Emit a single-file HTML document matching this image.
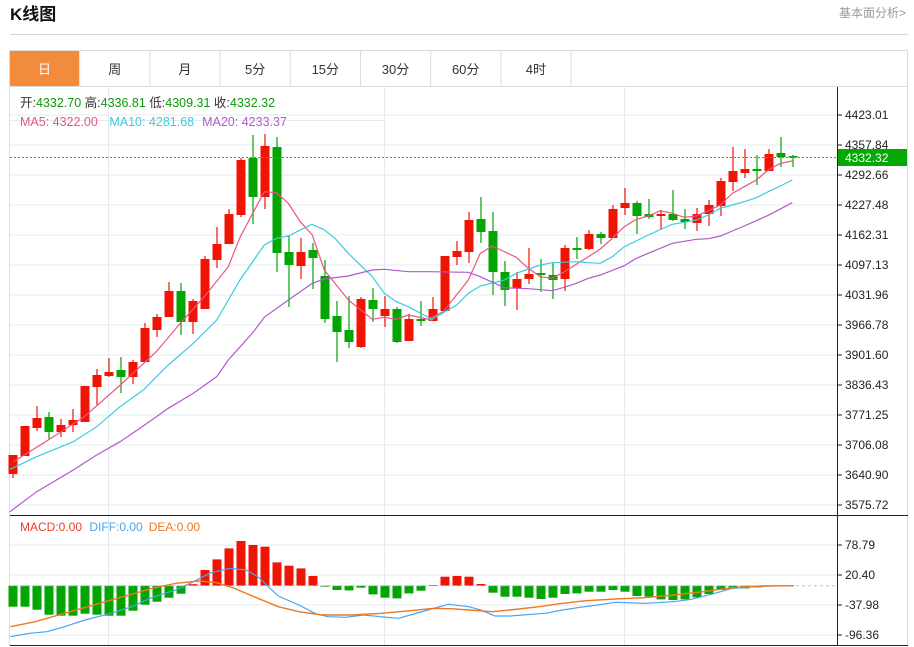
<!DOCTYPE html>
<html><head><meta charset="utf-8"><style>
html,body{margin:0;padding:0;background:#fff;}
body{width:914px;height:647px;overflow:hidden;position:relative;font-family:"Liberation Sans","Noto Sans CJK SC",sans-serif;}
svg{position:absolute;left:0;top:0;}
</style></head><body>
<svg id="s" width="914" height="647" xmlns="http://www.w3.org/2000/svg" font-family="Liberation Sans, Noto Sans CJK SC, sans-serif"></svg>
<script>
const S=document.getElementById('s');let h='';
const R='#f01405',G='#03a503';const SP=12.0;
h+='<text x="10" y="20" font-size="17" font-weight="bold" fill="#111">K线图</text>';
h+='<text x="906" y="17" font-size="12" fill="#999" text-anchor="end">基本面分析&gt;</text>';
h+='<line x1="10" y1="34.5" x2="908" y2="34.5" stroke="#d6d6d6"/>';
h+='<rect x="9.5" y="50.5" width="898" height="595" fill="none" stroke="#dcdcdc"/>';
h+='<line x1="9.5" y1="86.5" x2="908" y2="86.5" stroke="#dcdcdc"/>';
const tabs=['日','周','月','5分','15分','30分','60分','4时'];
for(let i=0;i<8;i++){const x=9.5+i*70.2;
 if(i==0)h+='<rect x="10" y="51" width="69" height="35" fill="#f28c3c"/>';
 h+='<line x1="'+(x+70.2)+'" y1="51" x2="'+(x+70.2)+'" y2="86" stroke="#dcdcdc"/>';
 h+='<text x="'+(x+35)+'" y="74" font-size="13" text-anchor="middle" fill="'+(i==0?'#fff':'#333')+'">'+tabs[i]+'</text>';}
for(let k=0;k<14;k++){const y=115+k*30;h+='<line x1="10" y1="'+y+'" x2="837" y2="'+y+'" stroke="#e3ebf1"/>';}
for(const x of [108.5,384.5,624.5]){h+='<line x1="'+x+'" y1="87" x2="'+x+'" y2="646" stroke="#e3ebf1"/>';}
for(const y of [545,575,605,635]){h+='<line x1="10" y1="'+y+'" x2="837" y2="'+y+'" stroke="#e3ebf1"/>';}
h+='<line x1="10" y1="120.5" x2="385" y2="120.5" stroke="#e3ebf1"/>';
h+='<line x1="837.5" y1="87" x2="837.5" y2="646" stroke="#222"/>';
h+='<line x1="10" y1="515.5" x2="908" y2="515.5" stroke="#222"/>';
h+='<line x1="10" y1="645.5" x2="908" y2="645.5" stroke="#222"/>';
const pl=['4423.01','4357.84','4292.66','4227.48','4162.31','4097.13','4031.96','3966.78','3901.60','3836.43','3771.25','3706.08','3640.90','3575.72'];
pl.forEach((t,k)=>{const y=115+k*30;h+='<line x1="837" y1="'+y+'" x2="842" y2="'+y+'" stroke="#222"/><text x="845" y="'+(y+4)+'" font-size="12" fill="#222">'+t+'</text>';});
[['78.79',545],['20.40',575],['-37.98',605],['-96.36',635]].forEach(([t,y])=>{h+='<line x1="837" y1="'+y+'" x2="842" y2="'+y+'" stroke="#222"/><text x="845" y="'+(y+4)+'" font-size="12" fill="#222">'+t+'</text>';});
const C=[[455,474,455,478,R],[426,456,426,456,R],[418,428,406,431,R],[417,432,412,439,G],[425,432,419,437,R],[420,425,409,432,R],[386,422,386,422,R],[375,387,369,405,R],[372,376,358,377,R],[370,377,357,393,G],[362,377,360,384,R],[328,362,323,362,R],[317,330,314,337,R],[291,317,282,317,R],[291,322,283,335,G],[301,322,299,334,R],[259,309,256,309,R],[244,260,227,268,R],[214,244,209,244,R],[160,215,158,217,R],[158,197,135,224,G],[146,197,134,209,R],[147,253,137,272,G],[252,265,235,307,G],[252,266,238,279,R],[250,258,243,289,G],[276,319,260,323,G],[316,332,301,362,G],[330,342,296,348,G],[299,347,297,348,R],[300,309,288,322,G],[309,316,296,327,R],[309,342,307,343,G],[319,341,314,341,R],[319,321,301,326,G],[309,321,297,321,R],[256,311,256,311,R],[251,257,241,265,R],[220,252,212,263,R],[219,232,197,243,G],[231,272,212,295,G],[272,290,261,306,G],[279,288,272,310,R],[274,279,248,284,R],[273,275,259,292,G],[275,280,263,299,G],[248,279,245,291,R],[248,250,237,259,G],[234,249,230,250,R],[234,238,232,244,G],[209,238,205,238,R],[203,208,188,215,R],[203,216,201,234,G],[214,217,199,219,G],[214,216,210,229,R],[214,220,190,221,G],[219,222,209,229,G],[214,223,208,231,R],[205,214,200,226,R],[181,206,178,216,R],[171,182,147,191,R],[169,173,149,178,R],[169,171,155,185,G],[154,171,149,171,R],[153,157,137,167,G],[156,157,155,167,G]];
C.forEach((c,i)=>{const x=13+i*SP;h+='<line x1="'+x+'" y1="'+c[2]+'" x2="'+x+'" y2="'+c[3]+'" stroke="'+c[4]+'" stroke-width="1.2"/>';h+='<rect x="'+(x-4.5)+'" y="'+c[0]+'" width="9" height="'+Math.max(1.5,c[1]-c[0])+'" fill="'+c[4]+'"/>';});
function pts(a,b){let p=[];a.forEach(q=>p.push([q[0]/3,q[1]/3+130]));b.forEach(q=>p.push([q[0]/3+430,q[1]/3+130]));return p.map(q=>q[0].toFixed(1)+','+q[1].toFixed(1)).join(' ');}
const ma5=pts([[40,995],[145,930],[253,860],[361,765],[469,665],[541,580],[613,500],[685,410],[721,320],[793,185],[829,188],[865,220],[901,275],[937,315],[973,420],[1045,510],[1117,568],[1153,562],[1189,568],[1225,555],[1297,570]],[[0,565],[40,545],[115,450],[151,370],[187,348],[259,382],[295,415],[331,440],[367,445],[403,425],[475,380],[511,357],[547,325],[583,290],[619,268],[655,258],[691,242],[727,250],[763,262],[799,258],[835,242],[871,225],[907,190],[943,170],[979,150],[1015,120],[1051,100],[1087,93]]);
const ma10=pts([[30,1018],[110,980],[220,935],[290,890],[360,830],[430,780],[505,705],[580,640],[650,570],[720,450],[793,345],[830,325],[865,318],[935,283],[970,298],[1005,325],[1045,370],[1117,440],[1153,490],[1189,515],[1225,530],[1297,568]],[[0,570],[40,548],[80,525],[115,490],[151,468],[223,450],[259,430],[331,405],[367,398],[439,395],[475,398],[511,400],[547,380],[583,350],[655,315],[727,283],[763,277],[799,270],[835,255],[871,235],[907,225],[943,215],[979,203],[1015,185],[1051,168],[1087,150]]);
const ma20=pts([[30,1145],[110,1085],[220,1020],[290,975],[360,935],[430,888],[505,835],[580,790],[650,740],[685,690],[757,610],[793,562],[865,510],[937,460],[973,447],[1045,438],[1117,420],[1153,418],[1225,425]],[[0,425],[115,427],[151,440],[223,473],[295,476],[367,482],[403,472],[439,460],[475,445],[511,435],[583,407],[619,385],[691,355],[727,340],[799,328],[835,326],[871,318],[907,303],[943,288],[1015,256],[1087,218]]);
h+='<polyline points="'+ma5+'" fill="none" stroke="#ec5384" stroke-width="1.2"/>';
h+='<polyline points="'+ma10+'" fill="none" stroke="#3ccbe0" stroke-width="1.2"/>';
h+='<polyline points="'+ma20+'" fill="none" stroke="#b05ac9" stroke-width="1.2"/>';
h+='<line x1="10" y1="157.5" x2="837" y2="157.5" stroke="#2cb02c" stroke-dasharray="2,2"/>';
h+='<rect x="838" y="149" width="69" height="17" fill="#06a806"/><text x="845" y="162" font-size="12" fill="#fff">4332.32</text>';
h+='<text x="20" y="107" font-size="12.5" fill="#333">开:<tspan fill="#0a9a0a">4332.70</tspan>  高:<tspan fill="#0a9a0a">4336.81</tspan>  低:<tspan fill="#0a9a0a">4309.31</tspan>  收:<tspan fill="#0a9a0a">4332.32</tspan></text>';
h+='<text x="20" y="126" font-size="12.5" fill="#ec5384">MA5: 4322.00 <tspan dx="8" fill="#3ccbe0">MA10: 4281.68</tspan><tspan dx="8" fill="#b05ac9">MA20: 4233.37</tspan></text>';
h+='<text x="20" y="531" font-size="12" fill="#f03c28">MACD:0.00 <tspan dx="4" fill="#4aa3f0">DIFF:0.00</tspan><tspan dx="6" fill="#f07820">DEA:0.00</tspan></text>';
const Z=585.7;
const M=[-21,-21,-24,-29,-30,-30,-28,-29,-30,-30,-25,-19,-16,-12,-8,1.5,15.7,26.3,37.3,44.7,40.7,39,23.3,20,17.3,9.7,-1,-4.3,-4.7,-2,-8.7,-12,-12.7,-7.7,-5,0.7,9,9.7,9,1.7,-7,-11,-11,-12,-13.3,-12,-8.3,-7.7,-6,-6,-4.3,-6,-10.3,-11,-13.7,-14.3,-13.7,-11.7,-8.3,-4.3,-3,-2.7,-1.7,-0.7,0,0];
M.forEach((v,i)=>{const x=13+i*SP;if(Math.abs(v)<0.3)return;h+='<rect x="'+(x-4.5)+'" y="'+(v>0?Z-v:Z)+'" width="9" height="'+Math.abs(v)+'" fill="'+(v>0?R:G)+'"/>';});
function mp(a){return a.map(q=>(q[0]*0.586).toFixed(1)+','+(q[1]/3+510).toFixed(1)).join(' ');}
h+='<line x1="10" y1="585.7" x2="837" y2="585.7" stroke="#aacbe0" stroke-dasharray="3,3"/>';
h+='<polyline points="'+mp([[18,380],[50,370],[80,365],[110,350],[145,330],[190,310],[225,290],[260,262],[300,240],[330,215],[360,188],[393,175],[420,180],[440,200],[475,258],[510,285],[540,312],[560,320],[590,322],[620,315],[660,322],[680,325],[700,315],[730,300],[765,283],[800,290],[820,300],[845,318],[870,318],[930,310],[960,300],[990,292],[1020,285],[1050,277],[1100,280],[1150,275],[1180,268],[1220,250],[1250,235],[1290,230],[1330,227]])+'" fill="none" stroke="#4aa3f0" stroke-width="1.2"/>';
h+='<polyline points="'+mp([[18,350],[60,335],[100,315],[140,295],[180,275],[220,255],[260,235],[300,220],[340,213],[370,218],[400,235],[440,265],[475,290],[510,305],[550,315],[600,315],[650,310],[700,302],[740,295],[770,296],[800,300],[840,305],[870,300],[920,290],[960,280],[1000,272],[1050,267],[1100,263],[1150,255],[1200,245],[1250,233],[1300,228],[1355,227]])+'" fill="none" stroke="#f07820" stroke-width="1.4"/>';
S.innerHTML=h;
</script>
</body></html>
